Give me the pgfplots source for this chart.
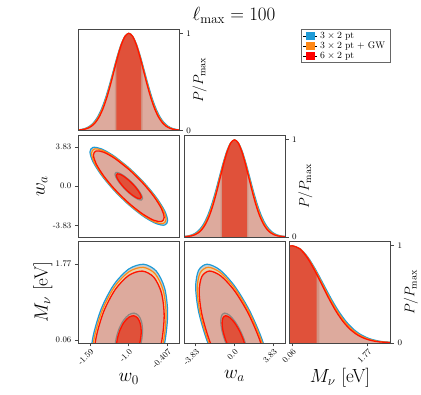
\RequirePackage{fix-cm}
\documentclass[border=0pt]{standalone}
\usepackage{pgfplots}
\pgfplotsset{compat=1.18}
\definecolor{cblue}{RGB}{30,155,215}
\definecolor{corange}{RGB}{255,135,20}
\definecolor{cred}{RGB}{255,20,0}
\definecolor{flight}{RGB}{221,170,157}
\definecolor{fdark}{RGB}{224,81,58}
\definecolor{fmid}{RGB}{210,148,132}
\definecolor{fring}{RGB}{214,158,142}
\definecolor{fbg}{RGB}{198,207,211}
\definecolor{ftan}{RGB}{232,210,175}
\definecolor{cgray}{RGB}{140,135,130}
\definecolor{cframe}{RGB}{70,70,70}
\pgfplotsset{
  cp/.style={scale only axis, width=101pt, height=101.5pt, anchor=north west,
    axis on top,
    axis line style={draw=cframe, line width=0.9pt},
    tick style={cframe, line width=0.8pt},
    major tick length=3.5pt, tick align=outside,
    ticklabel style={font=\fontsize{8.5}{10}\selectfont},
    label style={font=\fontsize{19}{23}\selectfont},
    xtick=\empty, ytick=\empty},
  oned/.style={ymin=0, ymax=1.045, ytick={0,1}, ytick pos=right, yticklabel pos=right,
    ylabel={$P/P_{\max}$}, ylabel shift=-5pt, ylabel style={font=\fontsize{14}{16}\selectfont}},
  rotx/.style={xtick pos=bottom, xticklabel style={rotate=45, anchor=north east, inner sep=1pt}},
  lb/.style={cblue, line width=1.2pt, smooth},
  lo/.style={corange, line width=1.2pt, smooth},
  lr/.style={cred, line width=1.3pt, smooth},
  lg/.style={cgray, line width=1.2pt, smooth},
  fl/.style={fill=#1, draw=none, smooth},
}
\begin{document}
\begin{tikzpicture}
\useasboundingbox (0,0) rectangle (421pt,395pt);
\node[font=\fontsize{19}{23}\selectfont] at (234pt,380pt) {$\ell_{\max}=100$};

% ---------- Panel A: w0 1D
\begin{axis}[cp, oned, at={(78.3pt,366pt)}, xmin=-1.771, xmax=-0.229]
\addplot[fl=flight] coordinates {(-1.84,0.0022) (-1.72,0.0111) (-1.66,0.0228) (-1.60,0.0439) (-1.54,0.0796) (-1.48,0.1353) (-1.42,0.2163) (-1.36,0.3247) (-1.30,0.4578) (-1.24,0.6065) (-1.18,0.7548) (-1.12,0.8825) (-1.06,0.9692) (-1.00,1) (-0.94,0.9692) (-0.88,0.8825) (-0.82,0.7548) (-0.76,0.6065) (-0.70,0.4578) (-0.64,0.3247) (-0.58,0.2163) (-0.52,0.1353) (-0.46,0.0796) (-0.40,0.0439) (-0.34,0.0228) (-0.28,0.0111) (-0.16,0.0022)} \closedcycle;
\addplot[fl=fmid] coordinates {(-1.211,0.6794) (-1.16,0.8007) (-1.10,0.9169) (-1.05,0.9785) (-1,1) (-0.95,0.9785) (-0.90,0.9169) (-0.84,0.8007) (-0.789,0.6794)} \closedcycle;
\addplot[fl=fdark] coordinates {(-1.19,0.7067) (-1.15,0.8054) (-1.10,0.9083) (-1.05,0.9762) (-1,1) (-0.95,0.9762) (-0.90,0.9083) (-0.85,0.8054) (-0.81,0.7067)} \closedcycle;
\addplot[lb] coordinates {(-1.84,0.0022) (-1.72,0.0111) (-1.66,0.0228) (-1.60,0.0439) (-1.54,0.0796) (-1.48,0.1353) (-1.42,0.2163) (-1.36,0.3247) (-1.30,0.4578) (-1.24,0.6065) (-1.18,0.7548) (-1.12,0.8825) (-1.06,0.9692) (-1.00,1) (-0.94,0.9692) (-0.88,0.8825) (-0.82,0.7548) (-0.76,0.6065) (-0.70,0.4578) (-0.64,0.3247) (-0.58,0.2163) (-0.52,0.1353) (-0.46,0.0796) (-0.40,0.0439) (-0.34,0.0228) (-0.28,0.0111) (-0.16,0.0022)};
\addplot[lo] coordinates {(-1.819,0.0022) (-1.702,0.0111) (-1.6435,0.0228) (-1.585,0.0439) (-1.5265,0.0796) (-1.468,0.1353) (-1.4095,0.2163) (-1.351,0.3247) (-1.2925,0.4578) (-1.234,0.6065) (-1.1755,0.7548) (-1.117,0.8825) (-1.0585,0.9692) (-1,1) (-0.9415,0.9692) (-0.883,0.8825) (-0.8245,0.7548) (-0.766,0.6065) (-0.7075,0.4578) (-0.649,0.3247) (-0.5905,0.2163) (-0.532,0.1353) (-0.4735,0.0796) (-0.415,0.0439) (-0.3565,0.0228) (-0.298,0.0111) (-0.181,0.0022)};
\addplot[lr] coordinates {(-1.798,0.0022) (-1.684,0.0111) (-1.627,0.0228) (-1.570,0.0439) (-1.513,0.0796) (-1.456,0.1353) (-1.399,0.2163) (-1.342,0.3247) (-1.285,0.4578) (-1.228,0.6065) (-1.171,0.7548) (-1.114,0.8825) (-1.057,0.9692) (-1,1) (-0.943,0.9692) (-0.886,0.8825) (-0.829,0.7548) (-0.772,0.6065) (-0.715,0.4578) (-0.658,0.3247) (-0.601,0.2163) (-0.544,0.1353) (-0.487,0.0796) (-0.430,0.0439) (-0.373,0.0228) (-0.316,0.0111) (-0.202,0.0022)};
\end{axis}

% ---------- Panel B: w0 - wa
\begin{axis}[cp, at={(78.3pt,259.5pt)}, xmin=-1.771, xmax=-0.229, ymin=-4.98, ymax=4.98,
  ytick={-3.83,0,3.83}, yticklabels={{-3.83},{0.0},{3.83}}, ytick pos=left, ylabel={$w_a$}, ylabel shift=-1.5pt]
\addplot[fl=fbg] coordinates {(-1.000,1.819) (-1.227,2.971) (-1.419,3.670) (-1.548,3.810) (-1.593,3.370) (-1.548,2.418) (-1.419,1.097) (-1.227,-0.391) (-1.000,-1.819) (-0.773,-2.971) (-0.581,-3.670) (-0.452,-3.810) (-0.407,-3.370) (-0.452,-2.418) (-0.581,-1.097) (-0.773,0.391) (-1.000,1.819) (-1.227,2.971)};
\addplot[fl=ftan] coordinates {(-1.000,1.747) (-1.218,2.852) (-1.402,3.523) (-1.526,3.658) (-1.569,3.236) (-1.526,2.321) (-1.402,1.053) (-1.218,-0.375) (-1.000,-1.747) (-0.782,-2.852) (-0.598,-3.523) (-0.474,-3.658) (-0.431,-3.236) (-0.474,-2.321) (-0.598,-1.053) (-0.782,0.375) (-1.000,1.747) (-1.218,2.852)};
\addplot[fl=flight] coordinates {(-1.000,1.655) (-1.207,2.703) (-1.382,3.339) (-1.499,3.467) (-1.540,3.067) (-1.499,2.200) (-1.382,0.998) (-1.207,-0.356) (-1.000,-1.655) (-0.793,-2.703) (-0.618,-3.339) (-0.501,-3.467) (-0.460,-3.067) (-0.501,-2.200) (-0.618,-0.998) (-0.793,0.356) (-1.000,1.655) (-1.207,2.703)};
\addplot[fl=fring] coordinates {(-1.000,0.646) (-1.081,1.055) (-1.149,1.303) (-1.195,1.353) (-1.211,1.197) (-1.195,0.858) (-1.149,0.389) (-1.081,-0.139) (-1.000,-0.646) (-0.919,-1.055) (-0.851,-1.303) (-0.806,-1.353) (-0.790,-1.197) (-0.806,-0.858) (-0.851,-0.389) (-0.919,0.139) (-1.000,0.646) (-1.081,1.055)};
\addplot[fl=fdark] coordinates {(-1.000,0.582) (-1.073,0.951) (-1.134,1.175) (-1.176,1.220) (-1.190,1.079) (-1.176,0.774) (-1.134,0.351) (-1.073,-0.125) (-1.000,-0.582) (-0.927,-0.951) (-0.866,-1.175) (-0.825,-1.220) (-0.810,-1.079) (-0.825,-0.774) (-0.866,-0.351) (-0.927,0.125) (-1.000,0.582) (-1.073,0.951)};
\addplot[lb] coordinates {(-1.000,1.819) (-1.227,2.971) (-1.419,3.670) (-1.548,3.810) (-1.593,3.370) (-1.548,2.418) (-1.419,1.097) (-1.227,-0.391) (-1.000,-1.819) (-0.773,-2.971) (-0.581,-3.670) (-0.452,-3.810) (-0.407,-3.370) (-0.452,-2.418) (-0.581,-1.097) (-0.773,0.391) (-1.000,1.819) (-1.227,2.971)};
\addplot[lo] coordinates {(-1.000,1.747) (-1.218,2.852) (-1.402,3.523) (-1.526,3.658) (-1.569,3.236) (-1.526,2.321) (-1.402,1.053) (-1.218,-0.375) (-1.000,-1.747) (-0.782,-2.852) (-0.598,-3.523) (-0.474,-3.658) (-0.431,-3.236) (-0.474,-2.321) (-0.598,-1.053) (-0.782,0.375) (-1.000,1.747) (-1.218,2.852)};
\addplot[lr] coordinates {(-1.000,1.655) (-1.207,2.703) (-1.382,3.339) (-1.499,3.467) (-1.540,3.067) (-1.499,2.200) (-1.382,0.998) (-1.207,-0.356) (-1.000,-1.655) (-0.793,-2.703) (-0.618,-3.339) (-0.501,-3.467) (-0.460,-3.067) (-0.501,-2.200) (-0.618,-0.998) (-0.793,0.356) (-1.000,1.655) (-1.207,2.703)};
\addplot[lg] coordinates {(-1.000,0.646) (-1.081,1.055) (-1.149,1.303) (-1.195,1.353) (-1.211,1.197) (-1.195,0.858) (-1.149,0.389) (-1.081,-0.139) (-1.000,-0.646) (-0.919,-1.055) (-0.851,-1.303) (-0.806,-1.353) (-0.790,-1.197) (-0.806,-0.858) (-0.851,-0.389) (-0.919,0.139) (-1.000,0.646) (-1.081,1.055)};
\addplot[lr] coordinates {(-1.000,0.582) (-1.073,0.951) (-1.134,1.175) (-1.176,1.220) (-1.190,1.079) (-1.176,0.774) (-1.134,0.351) (-1.073,-0.125) (-1.000,-0.582) (-0.927,-0.951) (-0.866,-1.175) (-0.825,-1.220) (-0.810,-1.079) (-0.825,-0.774) (-0.866,-0.351) (-0.927,0.125) (-1.000,0.582) (-1.073,0.951)};
\end{axis}

% ---------- Panel C: wa 1D
\begin{axis}[cp, oned, at={(184pt,259.5pt)}, xmin=-4.98, xmax=4.98]
\addplot[fl=flight] coordinates {(-5.32,0.0022) (-4.56,0.0111) (-4.18,0.0228) (-3.80,0.0439) (-3.42,0.0796) (-3.04,0.1353) (-2.66,0.2163) (-2.28,0.3247) (-1.90,0.4578) (-1.52,0.6065) (-1.14,0.7548) (-0.76,0.8825) (-0.38,0.9692) (0,1) (0.38,0.9692) (0.76,0.8825) (1.14,0.7548) (1.52,0.6065) (1.90,0.4578) (2.28,0.3247) (2.66,0.2163) (3.04,0.1353) (3.42,0.0796) (3.80,0.0439) (4.18,0.0228) (4.56,0.0111) (5.32,0.0022)} \closedcycle;
\addplot[fl=fmid] coordinates {(-1.36,0.6701) (-1,0.8054) (-0.6,0.9251) (-0.3,0.9807) (0,1) (0.3,0.9807) (0.6,0.9251) (1,0.8054) (1.36,0.6701)} \closedcycle;
\addplot[fl=fdark] coordinates {(-1.226,0.6889) (-0.9,0.818) (-0.6,0.9146) (-0.3,0.978) (0,1) (0.3,0.978) (0.6,0.9146) (0.9,0.818) (1.226,0.6889)} \closedcycle;
\addplot[lb] coordinates {(-5.32,0.0022) (-4.56,0.0111) (-4.18,0.0228) (-3.80,0.0439) (-3.42,0.0796) (-3.04,0.1353) (-2.66,0.2163) (-2.28,0.3247) (-1.90,0.4578) (-1.52,0.6065) (-1.14,0.7548) (-0.76,0.8825) (-0.38,0.9692) (0,1) (0.38,0.9692) (0.76,0.8825) (1.14,0.7548) (1.52,0.6065) (1.90,0.4578) (2.28,0.3247) (2.66,0.2163) (3.04,0.1353) (3.42,0.0796) (3.80,0.0439) (4.18,0.0228) (4.56,0.0111) (5.32,0.0022)};
\addplot[lo] coordinates {(-5.145,0.0022) (-4.41,0.0111) (-4.0425,0.0228) (-3.675,0.0439) (-3.3075,0.0796) (-2.94,0.1353) (-2.5725,0.2163) (-2.205,0.3247) (-1.8375,0.4578) (-1.47,0.6065) (-1.1025,0.7548) (-0.735,0.8825) (-0.3675,0.9692) (0,1) (0.3675,0.9692) (0.735,0.8825) (1.1025,0.7548) (1.47,0.6065) (1.8375,0.4578) (2.205,0.3247) (2.5725,0.2163) (2.94,0.1353) (3.3075,0.0796) (3.675,0.0439) (4.0425,0.0228) (4.41,0.0111) (5.145,0.0022)};
\addplot[lr] coordinates {(-4.97,0.0022) (-4.26,0.0111) (-3.905,0.0228) (-3.55,0.0439) (-3.195,0.0796) (-2.84,0.1353) (-2.485,0.2163) (-2.13,0.3247) (-1.775,0.4578) (-1.42,0.6065) (-1.065,0.7548) (-0.71,0.8825) (-0.355,0.9692) (0,1) (0.355,0.9692) (0.71,0.8825) (1.065,0.7548) (1.42,0.6065) (1.775,0.4578) (2.13,0.3247) (2.485,0.2163) (2.84,0.1353) (3.195,0.0796) (3.55,0.0439) (3.905,0.0228) (4.26,0.0111) (4.97,0.0022)};
\end{axis}

% ---------- Panel D: w0 - Mnu
\begin{axis}[cp, rotx, at={(78.3pt,153.5pt)}, xmin=-1.771, xmax=-0.229, ymin=-0.008, ymax=2.283,
  xtick={-1.59,-1,-0.407}, xticklabels={{-1.59},{-1.0},{-0.407}},
  ytick={0.06,1.77}, yticklabels={{0.06},{1.77}}, ytick pos=left,
  xlabel={$w_0$}, ylabel={$M_\nu$ [eV]}, ylabel shift=-3.5pt]
\addplot[fl=fbg] coordinates {(-1.000,-1.542) (-0.773,-1.191) (-0.581,-0.649) (-0.452,0.000) (-0.407,0.659) (-0.452,1.226) (-0.581,1.616) (-0.773,1.769) (-1.000,1.662) (-1.227,1.311) (-1.419,0.769) (-1.548,0.120) (-1.593,-0.539) (-1.548,-1.106) (-1.419,-1.496) (-1.227,-1.649) (-1.000,-1.542) (-0.773,-1.191)};
\addplot[fl=ftan] coordinates {(-1.000,-1.478) (-0.782,-1.141) (-0.598,-0.621) (-0.474,0.002) (-0.431,0.635) (-0.474,1.179) (-0.598,1.554) (-0.782,1.700) (-1.000,1.598) (-1.218,1.261) (-1.402,0.741) (-1.526,0.118) (-1.569,-0.515) (-1.526,-1.059) (-1.402,-1.434) (-1.218,-1.580) (-1.000,-1.478) (-0.782,-1.141)};
\addplot[fl=flight] coordinates {(-1.000,-1.398) (-0.793,-1.078) (-0.618,-0.585) (-0.501,0.005) (-0.460,0.605) (-0.501,1.121) (-0.618,1.476) (-0.793,1.615) (-1.000,1.518) (-1.207,1.198) (-1.382,0.705) (-1.499,0.115) (-1.540,-0.485) (-1.499,-1.001) (-1.382,-1.356) (-1.207,-1.495) (-1.000,-1.398) (-0.793,-1.078)};
\addplot[fl=fring] coordinates {(-1.000,-0.509) (-0.919,-0.384) (-0.851,-0.192) (-0.806,0.039) (-0.790,0.273) (-0.806,0.474) (-0.851,0.612) (-0.919,0.667) (-1.000,0.629) (-1.081,0.504) (-1.149,0.312) (-1.195,0.081) (-1.211,-0.153) (-1.195,-0.354) (-1.149,-0.492) (-1.081,-0.547) (-1.000,-0.509) (-0.919,-0.384)};
\addplot[fl=fdark] coordinates {(-1.000,-0.452) (-0.927,-0.340) (-0.866,-0.167) (-0.825,0.041) (-0.810,0.252) (-0.825,0.433) (-0.866,0.558) (-0.927,0.607) (-1.000,0.572) (-1.073,0.460) (-1.134,0.287) (-1.176,0.079) (-1.190,-0.132) (-1.176,-0.313) (-1.134,-0.438) (-1.073,-0.487) (-1.000,-0.452) (-0.927,-0.340)};
\addplot[lb] coordinates {(-1.000,-1.542) (-0.773,-1.191) (-0.581,-0.649) (-0.452,0.000) (-0.407,0.659) (-0.452,1.226) (-0.581,1.616) (-0.773,1.769) (-1.000,1.662) (-1.227,1.311) (-1.419,0.769) (-1.548,0.120) (-1.593,-0.539) (-1.548,-1.106) (-1.419,-1.496) (-1.227,-1.649) (-1.000,-1.542) (-0.773,-1.191)};
\addplot[lo] coordinates {(-1.000,-1.478) (-0.782,-1.141) (-0.598,-0.621) (-0.474,0.002) (-0.431,0.635) (-0.474,1.179) (-0.598,1.554) (-0.782,1.700) (-1.000,1.598) (-1.218,1.261) (-1.402,0.741) (-1.526,0.118) (-1.569,-0.515) (-1.526,-1.059) (-1.402,-1.434) (-1.218,-1.580) (-1.000,-1.478) (-0.782,-1.141)};
\addplot[lr] coordinates {(-1.000,-1.398) (-0.793,-1.078) (-0.618,-0.585) (-0.501,0.005) (-0.460,0.605) (-0.501,1.121) (-0.618,1.476) (-0.793,1.615) (-1.000,1.518) (-1.207,1.198) (-1.382,0.705) (-1.499,0.115) (-1.540,-0.485) (-1.499,-1.001) (-1.382,-1.356) (-1.207,-1.495) (-1.000,-1.398) (-0.793,-1.078)};
\addplot[lg] coordinates {(-1.000,-0.509) (-0.919,-0.384) (-0.851,-0.192) (-0.806,0.039) (-0.790,0.273) (-0.806,0.474) (-0.851,0.612) (-0.919,0.667) (-1.000,0.629) (-1.081,0.504) (-1.149,0.312) (-1.195,0.081) (-1.211,-0.153) (-1.195,-0.354) (-1.149,-0.492) (-1.081,-0.547) (-1.000,-0.509) (-0.919,-0.384)};
\addplot[lr] coordinates {(-1.000,-0.452) (-0.927,-0.340) (-0.866,-0.167) (-0.825,0.041) (-0.810,0.252) (-0.825,0.433) (-0.866,0.558) (-0.927,0.607) (-1.000,0.572) (-1.073,0.460) (-1.134,0.287) (-1.176,0.079) (-1.190,-0.132) (-1.176,-0.313) (-1.134,-0.438) (-1.073,-0.487) (-1.000,-0.452) (-0.927,-0.340)};
\end{axis}

% ---------- Panel E: wa - Mnu
\begin{axis}[cp, rotx, at={(184pt,153.5pt)}, xmin=-4.98, xmax=4.98, ymin=-0.008, ymax=2.283,
  xtick={-3.83,0,3.83}, xticklabels={{-3.83},{0.0},{3.83}}, xlabel={$w_a$}]
\addplot[fl=fbg] coordinates {(0.000,-1.161) (1.466,-1.526) (2.708,-1.650) (3.539,-1.513) (3.830,-1.137) (3.539,-0.579) (2.708,0.077) (1.466,0.730) (0.000,1.281) (-1.466,1.646) (-2.708,1.770) (-3.539,1.633) (-3.830,1.257) (-3.539,0.699) (-2.708,0.043) (-1.466,-0.610) (0.000,-1.161) (1.466,-1.526)};
\addplot[fl=ftan] coordinates {(0.000,-1.112) (1.407,-1.463) (2.600,-1.581) (3.397,-1.450) (3.677,-1.089) (3.397,-0.553) (2.600,0.076) (1.407,0.703) (0.000,1.232) (-1.407,1.583) (-2.600,1.701) (-3.397,1.570) (-3.677,1.209) (-3.397,0.673) (-2.600,0.044) (-1.407,-0.583) (0.000,-1.112) (1.407,-1.463)};
\addplot[fl=flight] coordinates {(0.000,-1.051) (1.334,-1.383) (2.464,-1.496) (3.220,-1.372) (3.485,-1.029) (3.220,-0.521) (2.464,0.075) (1.334,0.670) (0.000,1.171) (-1.334,1.503) (-2.464,1.616) (-3.220,1.492) (-3.485,1.149) (-3.220,0.641) (-2.464,0.045) (-1.334,-0.550) (0.000,-1.051) (1.334,-1.383)};
\addplot[fl=fring] coordinates {(0.000,-0.374) (0.521,-0.503) (0.962,-0.547) (1.257,-0.498) (1.360,-0.365) (1.257,-0.167) (0.962,0.066) (0.521,0.298) (0.000,0.494) (-0.521,0.623) (-0.962,0.667) (-1.257,0.618) (-1.360,0.485) (-1.257,0.287) (-0.962,0.054) (-0.521,-0.178) (0.000,-0.374) (0.521,-0.503)};
\addplot[fl=fdark] coordinates {(0.000,-0.331) (0.469,-0.447) (0.867,-0.487) (1.133,-0.443) (1.226,-0.323) (1.133,-0.144) (0.867,0.065) (0.469,0.274) (0.000,0.451) (-0.469,0.567) (-0.867,0.607) (-1.133,0.563) (-1.226,0.443) (-1.133,0.264) (-0.867,0.055) (-0.469,-0.154) (0.000,-0.331) (0.469,-0.447)};
\addplot[lb] coordinates {(0.000,-1.161) (1.466,-1.526) (2.708,-1.650) (3.539,-1.513) (3.830,-1.137) (3.539,-0.579) (2.708,0.077) (1.466,0.730) (0.000,1.281) (-1.466,1.646) (-2.708,1.770) (-3.539,1.633) (-3.830,1.257) (-3.539,0.699) (-2.708,0.043) (-1.466,-0.610) (0.000,-1.161) (1.466,-1.526)};
\addplot[lo] coordinates {(0.000,-1.112) (1.407,-1.463) (2.600,-1.581) (3.397,-1.450) (3.677,-1.089) (3.397,-0.553) (2.600,0.076) (1.407,0.703) (0.000,1.232) (-1.407,1.583) (-2.600,1.701) (-3.397,1.570) (-3.677,1.209) (-3.397,0.673) (-2.600,0.044) (-1.407,-0.583) (0.000,-1.112) (1.407,-1.463)};
\addplot[lr] coordinates {(0.000,-1.051) (1.334,-1.383) (2.464,-1.496) (3.220,-1.372) (3.485,-1.029) (3.220,-0.521) (2.464,0.075) (1.334,0.670) (0.000,1.171) (-1.334,1.503) (-2.464,1.616) (-3.220,1.492) (-3.485,1.149) (-3.220,0.641) (-2.464,0.045) (-1.334,-0.550) (0.000,-1.051) (1.334,-1.383)};
\addplot[lg] coordinates {(0.000,-0.374) (0.521,-0.503) (0.962,-0.547) (1.257,-0.498) (1.360,-0.365) (1.257,-0.167) (0.962,0.066) (0.521,0.298) (0.000,0.494) (-0.521,0.623) (-0.962,0.667) (-1.257,0.618) (-1.360,0.485) (-1.257,0.287) (-0.962,0.054) (-0.521,-0.178) (0.000,-0.374) (0.521,-0.503)};
\addplot[lr] coordinates {(0.000,-0.331) (0.469,-0.447) (0.867,-0.487) (1.133,-0.443) (1.226,-0.323) (1.133,-0.144) (0.867,0.065) (0.469,0.274) (0.000,0.451) (-0.469,0.567) (-0.867,0.607) (-1.133,0.563) (-1.226,0.443) (-1.133,0.264) (-0.867,0.055) (-0.469,-0.154) (0.000,-0.331) (0.469,-0.447)};
\end{axis}

% ---------- Panel F: Mnu 1D
\begin{axis}[cp, oned, rotx, at={(289.5pt,153.5pt)}, xmin=-0.008, xmax=2.283,
  xtick={0.06,1.77}, xticklabels={{0.06},{1.77}}, xlabel={$M_\nu$ [eV]}]
\addplot[fl=flight] coordinates {(-0.01,0.9953) (0.06,1) (0.235,0.9692) (0.41,0.8825) (0.585,0.7548) (0.76,0.6065) (0.935,0.4578) (1.11,0.3247) (1.285,0.2163) (1.46,0.1353) (1.635,0.0796) (1.81,0.0439) (1.985,0.0228) (2.16,0.0111) (2.51,0.0022)} \closedcycle;
\addplot[fl=fmid] coordinates {(-0.01,0.9953) (0.06,1) (0.2,0.9802) (0.4,0.8887) (0.55,0.7827) (0.667,0.6866)} \closedcycle;
\addplot[fl=fdark] coordinates {(-0.01,0.9947) (0.06,1) (0.2,0.9778) (0.35,0.908) (0.5,0.8007) (0.607,0.7093)} \closedcycle;
\addplot[lb] coordinates {(-0.01,0.9953) (0.06,1) (0.235,0.9692) (0.41,0.8825) (0.585,0.7548) (0.76,0.6065) (0.935,0.4578) (1.11,0.3247) (1.285,0.2163) (1.46,0.1353) (1.635,0.0796) (1.81,0.0439) (1.985,0.0228) (2.16,0.0111) (2.51,0.0022)};
\addplot[lo] coordinates {(-0.01,0.9953) (0.06,1) (0.23,0.9692) (0.40,0.8825) (0.57,0.7548) (0.74,0.6065) (0.91,0.4578) (1.08,0.3247) (1.25,0.2163) (1.42,0.1353) (1.59,0.0796) (1.76,0.0439) (1.93,0.0228) (2.10,0.0111) (2.44,0.0022)};
\addplot[lr] coordinates {(-0.01,0.9953) (0.06,1) (0.225,0.9692) (0.39,0.8825) (0.555,0.7548) (0.72,0.6065) (0.885,0.4578) (1.05,0.3247) (1.215,0.2163) (1.38,0.1353) (1.545,0.0796) (1.71,0.0439) (1.875,0.0228) (2.04,0.0111) (2.37,0.0022)};
\end{axis}

% ---------- Legend
\begin{axis}[scale only axis, width=101pt, height=101.5pt, anchor=north west, at={(289.5pt,366pt)},
  hide axis, xmin=0, xmax=1, ymin=0, ymax=1, legend cell align=left,
  legend style={at={(1,1)}, anchor=north east, draw=black!60, line width=0.6pt,
    font=\fontsize{9.5}{10.5}\selectfont, inner xsep=2pt, inner ysep=1.5pt, row sep=-1pt,
    nodes={inner xsep=3pt, inner ysep=1.5pt}}]
\addlegendimage{legend image code/.code={\path (-2.5pt,0pt) -- (11pt,0pt); \fill[cblue] (0pt,-3.5pt) rectangle (8.5pt,3.5pt);}}
\addlegendentry{$3\times2$ pt}
\addlegendimage{legend image code/.code={\path (-2.5pt,0pt) -- (11pt,0pt); \fill[corange] (0pt,-3.5pt) rectangle (8.5pt,3.5pt);}}
\addlegendentry{$3\times2$ pt $+$ GW}
\addlegendimage{legend image code/.code={\path (-2.5pt,0pt) -- (11pt,0pt); \fill[red] (0pt,-3.5pt) rectangle (8.5pt,3.5pt);}}
\addlegendentry{$6\times2$ pt}
\end{axis}
\end{tikzpicture}
\end{document}
